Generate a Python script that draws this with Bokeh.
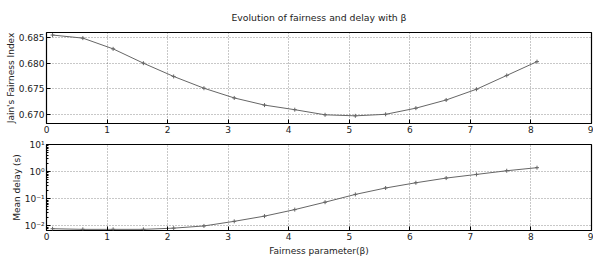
from bokeh.plotting import figure
from bokeh.layouts import column
from bokeh.models import FixedTicker, CustomJSTickFormatter, Range1d, PrintfTickFormatter
from bokeh.embed import file_html
from bokeh.resources import INLINE

beta = [0.1, 0.6, 1.1, 1.6, 2.1, 2.6, 3.1, 3.6, 4.1, 4.6, 5.1, 5.6, 6.1, 6.6, 7.1, 7.6, 8.1]
fairness = [0.6855, 0.6849, 0.6828, 0.6800, 0.6774, 0.6751, 0.6732, 0.6718, 0.6709,
            0.6699, 0.6697, 0.6700, 0.6712, 0.6728, 0.6749, 0.6776, 0.6803]
delay = [0.0079, 0.0075, 0.0075, 0.0075, 0.0083, 0.010, 0.0148, 0.023, 0.040,
         0.075, 0.145, 0.25, 0.39, 0.58, 0.79, 1.08, 1.4]
x_ticks = [0, 1, 2, 3, 4, 5, 6, 7, 8, 9]
fair_ticks = [0.670, 0.675, 0.680, 0.685]
delay_ticks = [0.01, 0.1, 1, 10]

FONT = "DejaVu Sans"
LINE = "#666666"


def style(p):
    p.outline_line_color = "black"
    p.outline_line_width = 1.2
    p.background_fill_color = "white"
    p.border_fill_color = "white"
    for ax in (p.xaxis, p.yaxis):
        ax.axis_line_color = None
        ax.major_tick_in = 4
        ax.major_tick_out = 0
        ax.minor_tick_in = 2
        ax.minor_tick_out = 0
        ax.major_label_text_font = FONT
        ax.major_label_text_font_size = "9px"
        ax.major_label_text_color = "#222222"
        ax.axis_label_text_font = FONT
        ax.axis_label_text_font_size = "9px"
        ax.axis_label_text_font_style = "normal"
        ax.axis_label_text_color = "#222222"
        ax.major_tick_line_color = "black"
        ax.minor_tick_line_color = "black"
    p.yaxis.axis_label_standoff = 0
    p.xaxis.axis_label_standoff = 3
    p.xaxis.minor_tick_line_color = None
    p.xaxis.major_label_standoff = 2
    p.yaxis.major_label_standoff = 2
    p.grid.grid_line_color = "#000000"
    p.grid.grid_line_alpha = 0.55
    p.grid.grid_line_dash = "1 2"
    p.grid.grid_line_width = 0.8


p1 = figure(width=593, height=136, output_backend="svg", toolbar_location=None,
            x_range=Range1d(0, 9), y_range=Range1d(0.6682, 0.6860),
            min_border_left=46, min_border_right=2, min_border_top=32, min_border_bottom=13,
            title="Evolution of fairness and delay with β")
p1.title.text_font = FONT
p1.title.text_font_size = "9.3px"
p1.title.text_font_style = "normal"
p1.title.align = "center"
p1.title.text_color = "#222222"
p1.title.standoff = 19
p1.line(beta, fairness, line_color=LINE, line_width=1)
p1.scatter(beta, fairness, marker="cross", size=4, line_color=LINE)
p1.xaxis.ticker = FixedTicker(ticks=x_ticks)
p1.yaxis.ticker = FixedTicker(ticks=fair_ticks)
p1.yaxis.formatter = PrintfTickFormatter(format="%.3f")
p1.yaxis.axis_label = "Jain's Fairness Index"
style(p1)
p1.yaxis.minor_tick_line_color = None

p2 = figure(width=593, height=122, output_backend="svg", toolbar_location=None,
            x_range=Range1d(0, 9), y_range=Range1d(0.0068, 10), y_axis_type="log",
            min_border_left=46, min_border_right=2, min_border_top=8, min_border_bottom=22)
p2.line(beta, delay, line_color=LINE, line_width=1)
p2.scatter(beta, delay, marker="cross", size=4, line_color=LINE)
p2.xaxis.ticker = FixedTicker(ticks=x_ticks)
p2.yaxis.ticker = FixedTicker(ticks=delay_ticks,
                              minor_ticks=[m * 10 ** e for e in (-3, -2, -1, 0) for m in range(2, 10)])
p2.yaxis.formatter = CustomJSTickFormatter(code="""
const e = Math.round(Math.log10(tick));
const sup = {'-':'\u207b','0':'\u2070','1':'\u00b9','2':'\u00b2','3':'\u00b3'};
return '10' + String(e).split('').map(c => sup[c]).join('');
""")
p2.xaxis.axis_label = "Fairness parameter(β)"
p2.yaxis.axis_label = "Mean delay (s)"
style(p2)

layout = column(p1, p2, spacing=0)
open("out.html", "w").write(file_html(layout, INLINE))
